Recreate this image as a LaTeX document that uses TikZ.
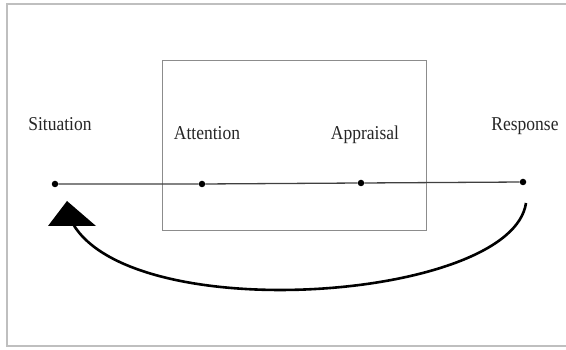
\documentclass[tikz,border=0pt]{standalone}
\usepackage{fontspec}
\setmainfont{Liberation Serif}
\newcommand{\tallt}[1]{\scalebox{1}[1.12]{#1}}
\begin{document}
\begin{tikzpicture}[x=1pt,y=-1pt,
  dot/.style={circle,fill=black,inner sep=0pt,minimum size=6.5pt},
  lbl/.style={inner sep=0pt,anchor=base,font=\fontsize{17.5}{20}\selectfont,text=black!85},
  frameline/.style={draw=black!25,line width=1.2pt},
  boxline/.style={draw=black!45,line width=0.9pt},
  axis/.style={draw=black!75,line width=1.3pt},
  loop/.style={draw=black,line width=2.6pt}]
\useasboundingbox (0,0) rectangle (566,350);
% outer frame
\coordinate (f1) at (566,4);
\coordinate (f2) at (7,4);
\coordinate (f3) at (7,346);
\coordinate (f4) at (566,346);
\draw[frameline] (f1) -- (f2) -- (f3) -- (f4);
% inner box
\node[boxline,minimum width=264pt,minimum height=170pt,inner sep=0pt] (box) at (294,145) {};
% dots
\node[dot] (s) at (55,184) {};
\node[dot] (a) at (202,184) {};
\node[dot] (p) at (361,183) {};
\node[dot] (r) at (523,182) {};
\draw[axis] (s) -- (a) -- (p) -- (r);
% labels
\node[lbl] (ls) at (60,131) {\tallt{Situation}};
\node[lbl] (la) at (207,140) {\tallt{Attention}};
\node[lbl] (lp) at (365,140) {\tallt{Appraisal}};
\node[lbl] (lr) at (525,131) {\tallt{Response}};
% feedback arrow
\coordinate (cs) at (526,203);
\coordinate (ce) at (73,224);
\draw[loop] (cs) .. controls (512,300) and (135,328) .. (ce);
\coordinate (t1) at (48,226);
\coordinate (t2) at (96,226);
\coordinate (t3) at (67,201);
\fill[black] (t1) -- (t2) -- (t3) -- cycle;
\end{tikzpicture}
\end{document}
